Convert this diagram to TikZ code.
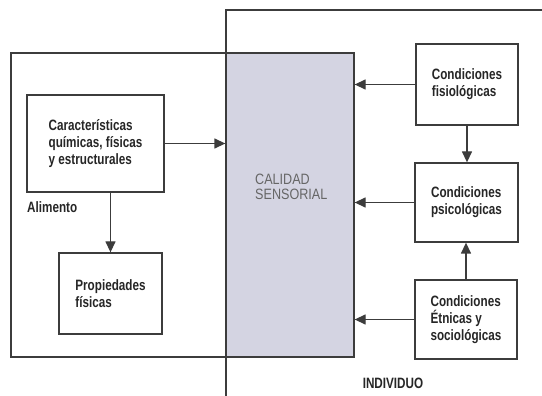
\documentclass[tikz,border=0pt]{standalone}
\usepackage{fontspec}
\setmainfont{Liberation Sans}
\newfontfamily\letra{Liberation Sans Bold}[FakeStretch=0.78]
\newfontfamily\letrafina{Liberation Sans}[FakeStretch=0.84]
\usetikzlibrary{positioning,arrows.meta}

\definecolor{lila}{RGB}{212,212,226}
\definecolor{linea}{RGB}{60,60,60}

\tikzset{
  marco/.style={draw=linea, line width=1.3pt, inner sep=0pt},
  caja/.style={marco, fill=white, align=left,
    font=\letra\fontsize{15}{17}\selectfont, text=black!85},
  flecha/.style={draw=linea, line width=1.3pt, -{Triangle[length=11pt,width=10pt]}},
  rotulo/.style={font=\letra\fontsize{15}{17}\selectfont, text=black!85, inner sep=0pt}
}

\begin{document}
\begin{tikzpicture}[x=1pt,y=-1pt]
\useasboundingbox (0,0) rectangle (542,396);

\def\xa{226}
\def\ya{10}

\node[marco, minimum width=343pt, minimum height=304pt] (ali) at (182.5,205) {};
\node[marco, fill=lila, minimum width=128pt, minimum height=304pt] (cal) at (290,205) {};
\node[rotulo, font=\letrafina\fontsize{15}{15.5}\selectfont, anchor=west, align=left, text=black!60]
  (caltxt) at (255,187) {CALIDAD\\SENSORIAL};

\coordinate (i0) at (\xa,\ya);
\coordinate (i1) at (542,\ya);
\coordinate (i2) at (\xa,396);
\draw[linea, line width=1.3pt] (i1) -- (i0) -- (i2);

\node[caja, minimum width=137pt, minimum height=97pt] (car) at (95.5,143.5)
  {Características\\químicas, físicas\\y estructurales};
\node[caja, minimum width=103pt, minimum height=81pt] (prop) at (110.5,293.5)
  {Propiedades\\físicas};

\node[caja, minimum width=102pt, minimum height=81pt] (fis) at (467,84.5)
  {Condiciones\\fisiológicas};
\node[caja, minimum width=103pt, minimum height=79pt] (psi) at (466.5,202.5)
  {Condiciones\\psicológicas};
\node[caja, minimum width=102pt, minimum height=79pt] (etn) at (466,319.5)
  {Condiciones\\Étnicas y\\sociológicas};

\node[rotulo, anchor=west] (alim) at (27,207) {Alimento};
\node[rotulo] (indiv) at (393,383) {INDIVIDUO};

\draw[flecha] (car.east) -- (car.east -| cal.west);
\draw[flecha] (prop.north |- car.south) -- (prop.north);
\draw[flecha] (fis.west) -- (fis.west -| cal.east);
\draw[flecha] (psi.west) -- (psi.west -| cal.east);
\draw[flecha] (etn.west) -- (etn.west -| cal.east);
\draw[flecha] (fis.south) -- (fis.south |- psi.north);
\draw[flecha] (etn.north) -- (etn.north |- psi.south);

\end{tikzpicture}
\end{document}
